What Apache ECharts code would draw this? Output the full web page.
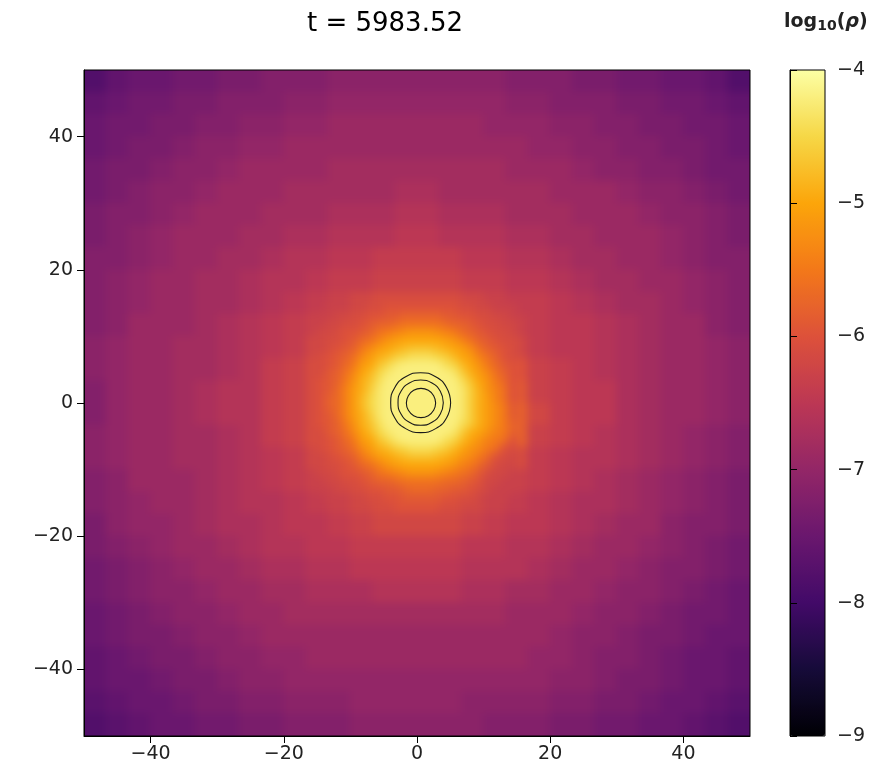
<!DOCTYPE html>
<html><head><meta charset="utf-8">
<style>html,body{margin:0;padding:0;background:#fff}#chart{width:887px;height:782px}
#chart canvas[data-zr-dom-id="zr_0"]{filter:blur(4px);clip-path:inset(70px 137px 46px 84px)}</style>
<script src="https://cdn.jsdelivr.net/npm/echarts@6/dist/echarts.min.js"></script></head><body><div id="chart"></div>
<script>
const titleText='t = 5983.52';
const tickLabels=[-40,-20,0,20,40];
const colorbarRange=[-9,-4];
const inferno=['#000004','#160b39','#420a68','#6a176e','#932667','#bc3754','#dd513a','#f37819','#fca50a','#f6d746','#fcffa4'];
// cell centres
const coarseAxis=[-48.33,-45,-41.67,-38.33,-35,-31.67,-28.33,-25,-21.67,-18.33,-15,-11.67,-8.33,-5,-1.67,1.67,5,8.33,11.67,15,18.33,21.67,25,28.33,31.67,35,38.33,41.67,45,48.33];
const fineAxis=[-14.375,-13.125,-11.875,-10.625,-9.375,-8.125,-6.875,-5.625,-4.375,-3.125,-1.875,-0.625,0.625,1.875,3.125,4.375,5.625,6.875,8.125,9.375,10.625,11.875,13.125,14.375];
// -log10(rho) x 10, rows from top to bottom
const coarseRho=[
[78,76,75,75,74,74,73,73,72,72,72,71,71,71,71,71,71,71,71,72,72,72,73,73,74,74,75,75,76,78],
[76,75,74,74,73,73,72,72,72,71,71,70,70,70,70,70,70,70,70,71,71,72,72,72,73,73,74,74,75,76],
[75,74,74,73,73,72,72,71,71,70,70,69,69,69,69,69,69,69,70,70,70,71,71,72,72,73,73,74,74,75],
[75,74,73,73,72,71,71,70,70,69,69,69,69,69,69,69,69,69,69,69,70,70,71,71,72,72,73,73,74,75],
[74,73,73,72,71,71,70,69,69,69,69,68,68,68,68,68,68,68,68,69,69,69,70,71,71,72,72,73,74,74],
[74,73,72,71,71,70,69,69,69,68,68,68,68,68,67,67,68,68,68,68,68,69,69,69,70,71,71,72,73,74],
[73,72,72,71,70,69,69,69,68,68,68,67,67,67,66,66,67,67,67,68,68,68,69,69,69,70,71,71,72,73],
[73,72,71,70,69,69,69,68,68,67,67,66,66,66,65,65,66,66,66,67,67,68,68,69,69,69,70,71,72,73],
[72,72,71,70,69,69,68,68,67,66,66,65,65,64,64,64,64,65,65,66,66,67,68,68,69,69,70,71,72,72],
[72,71,70,69,69,68,68,67,66,66,65,64,64,63,63,63,63,64,64,65,65,66,67,68,68,69,69,70,71,72],
[72,71,70,69,69,68,68,67,66,65,64,63,62,61,61,61,61,62,63,64,64,65,66,67,68,68,69,70,71,72],
[72,71,69,69,69,68,67,66,65,64,63,62,60,59,58,58,59,60,62,63,64,65,65,66,67,68,69,69,71,72],
[71,70,69,69,68,68,67,66,65,64,62,60,55,52,50,50,52,55,60,62,64,65,65,66,67,68,69,69,70,71],
[71,70,69,69,68,68,67,66,64,63,61,57,50,44,42,42,44,50,57,60,63,64,65,66,67,68,69,69,70,71],
[72,70,69,69,68,67,66,66,64,63,61,56,47,42,42,42,42,47,55,59,63,64,65,65,67,68,69,69,70,71],
[72,70,69,69,68,67,66,66,64,63,61,56,47,42,42,42,42,47,55,58,62,64,65,65,67,68,69,69,70,71],
[71,70,69,69,68,68,67,66,64,63,61,57,50,44,42,42,44,50,55,58,63,64,65,66,67,68,69,70,71,72],
[71,70,69,69,68,68,67,66,65,64,62,60,55,52,50,50,52,54,58,61,64,65,66,66,67,68,69,70,71,72],
[72,71,69,69,69,68,67,66,65,64,63,62,60,59,58,58,59,60,61,63,64,65,66,67,68,69,70,71,72,73],
[72,71,70,69,69,68,67,66,66,65,64,63,62,61,60,60,61,62,63,64,65,66,67,67,68,69,70,71,72,73],
[73,71,70,70,69,68,67,67,66,65,65,64,63,62,62,62,62,63,64,65,65,66,67,68,69,69,71,72,72,73],
[73,72,71,70,69,69,68,67,66,66,65,65,64,64,64,64,64,65,65,66,66,67,68,69,69,70,71,72,73,74],
[74,73,72,71,70,69,69,68,67,67,66,66,65,65,65,65,65,66,66,66,67,68,69,69,70,71,72,72,73,74],
[74,73,72,71,71,70,69,69,68,68,67,67,67,66,66,66,66,67,67,68,68,69,69,70,71,71,72,73,74,75],
[75,74,73,72,71,71,70,69,69,68,68,68,68,68,68,68,68,68,68,69,69,69,70,71,71,72,73,74,74,75],
[75,74,73,73,72,71,71,70,69,69,69,69,69,69,69,69,69,69,69,69,69,70,71,71,72,73,73,74,75,75],
[76,75,74,73,73,72,71,71,70,70,69,69,69,69,69,69,69,69,69,69,70,70,71,72,72,73,74,75,75,76],
[76,75,75,74,73,73,72,71,71,70,70,70,70,70,70,70,70,70,70,70,70,71,71,72,73,73,74,75,75,76],
[77,76,75,75,74,73,73,72,72,71,71,71,70,70,70,70,70,71,71,71,71,72,72,73,73,74,75,75,76,77],
[78,77,76,75,75,74,74,73,73,72,72,72,71,71,71,71,71,71,72,72,72,73,73,74,74,75,75,76,77,78]];
const fineRho=[
[64,63,63,63,62,62,61,61,60,60,60,60,60,60,60,60,60,61,61,62,62,63,63,63],
[63,63,62,62,61,61,60,60,59,59,58,58,58,58,58,59,59,60,60,61,61,62,62,63],
[63,62,62,61,61,60,59,58,58,57,56,56,56,56,56,57,58,58,59,60,61,61,62,62],
[62,62,61,60,60,59,58,56,55,54,53,52,52,52,53,54,55,57,58,59,60,61,61,62],
[62,61,61,60,59,57,56,54,52,51,50,50,50,50,50,51,52,54,56,58,59,60,61,61],
[62,61,60,59,58,55,53,51,50,49,48,47,47,47,48,49,50,51,53,56,58,59,60,61],
[61,60,59,58,56,53,51,49,48,46,45,44,44,44,45,46,48,50,51,54,56,58,60,61],
[61,60,59,57,55,51,50,47,45,43,42,42,42,42,42,44,45,48,50,52,55,57,59,60],
[61,59,58,56,53,50,48,45,43,42,42,42,42,42,42,42,43,46,49,51,53,56,58,60],
[60,59,58,55,52,49,47,44,42,42,42,42,42,42,42,42,42,44,47,50,52,55,57,60],
[60,59,57,54,51,49,46,43,42,42,42,42,42,42,42,42,42,43,46,49,52,54,56,60],
[60,58,57,54,51,48,45,43,42,42,42,42,42,42,42,42,42,43,46,49,51,54,56,60],
[60,58,57,54,51,48,45,43,42,42,42,42,42,42,42,42,42,43,46,49,51,53,55,59],
[60,59,57,54,51,49,46,43,42,42,42,42,42,42,42,42,42,43,46,49,51,53,55,59],
[60,59,58,55,52,49,47,44,42,42,42,42,42,42,42,42,42,44,46,49,51,53,55,58],
[61,59,58,56,53,50,48,45,43,42,42,42,42,42,42,42,43,46,49,50,52,54,55,58],
[61,60,59,57,55,51,50,47,45,43,42,42,42,42,42,44,45,48,50,52,54,55,56,60],
[61,60,59,58,56,53,51,49,48,46,45,44,44,44,45,46,48,50,52,53,55,56,60,61],
[62,61,60,59,58,55,53,51,50,49,48,47,47,47,48,49,50,52,53,55,57,60,61,62],
[62,61,61,60,59,57,56,54,52,51,50,50,50,50,50,51,52,54,55,57,59,61,62,62],
[62,62,61,60,60,59,58,56,55,54,53,52,52,52,53,54,55,56,57,59,61,62,62,63],
[63,62,62,61,61,60,59,58,58,57,56,56,56,56,56,57,57,58,59,60,62,62,63,63],
[63,63,62,62,61,61,60,60,59,59,58,57,57,57,58,58,59,59,60,61,62,63,63,63],
[64,63,63,63,62,62,61,61,60,60,59,59,59,59,59,60,60,61,61,62,63,63,63,64]];
const contourOuter=[[5.05,0.05],[4.45,2.3],[2.8,3.95],[0.55,4.55],[-1.7,3.95],[-3.35,2.3],[-3.95,0.05],[-3.35,-2.2],[-1.7,-3.85],[0.55,-4.45],[2.8,-3.85],[4.45,-2.2],[5.05,0.05]];
const contourMiddle=[[3.95,0.05],[3.5,1.75],[2.25,3],[0.55,3.45],[-1.15,3],[-2.4,1.75],[-2.85,0.05],[-2.4,-1.65],[-1.15,-2.9],[0.55,-3.35],[2.25,-2.9],[3.5,-1.65],[3.95,0.05]];
const contourInner=[[2.8,0],[2.5,1.1],[1.7,1.9],[0.6,2.2],[-0.5,1.9],[-1.3,1.1],[-1.6,0],[-1.3,-1.1],[-0.5,-1.9],[0.6,-2.2],[1.7,-1.9],[2.5,-1.1],[2.8,0]];

function cells(axis,rows,half){
  const out=[];
  rows.forEach((row,r)=>row.forEach((v,c)=>out.push([axis[c],axis[axis.length-1-r],-v/10,half])));
  return out;
}
function renderCell(params,api){
  const x=api.value(0),y=api.value(1),h=api.value(3);
  const grow=v=>Math.abs(v)>=48?(Math.abs(v)+h+4)*Math.sign(v):null;
  const x0=x-h<=-49?x-h-4:x-h, x1=x+h>=49?x+h+4:x+h;
  const y0=y-h<=-49?y-h-4:y-h, y1=y+h>=49?y+h+4:y+h;
  const a=api.coord([x0,y1]),b=api.coord([x1,y0]);
  return {type:'rect',shape:{x:a[0]-0.5,y:a[1]-0.5,width:b[0]-a[0]+1,height:b[1]-a[1]+1},style:{fill:api.visual('color')}};
}
const font='"DejaVu Sans"';
const minus=v=>String(v).replace('-','\u2212');
const lineCommon={type:'line',xAxisIndex:0,yAxisIndex:0,smooth:true,symbol:'none',zlevel:1,silent:true,lineStyle:{color:'#1a1a1a',width:1.1}};
const chart=echarts.init(document.getElementById('chart'),null,{renderer:'canvas'});
chart.setOption({
  animation:false,backgroundColor:'transparent',
  title:[
    {text:titleText,left:385,top:11,textAlign:'center',zlevel:1,padding:0,textStyle:{fontFamily:font,fontSize:26,fontWeight:'normal',color:'#000'}},
    {text:'{a|log}{b|10}{a|(}{c|\u03c1}{a|)}',left:784,top:12,zlevel:1,padding:0,textStyle:{rich:{
      a:{fontFamily:font,fontSize:19,color:'#222'},
      b:{fontFamily:font,fontSize:14,color:'#222',verticalAlign:'bottom',padding:[7,0,0,0]},
      c:{fontFamily:font,fontSize:19,fontStyle:'italic',color:'#222'}}}}
  ],
  grid:[
    {left:84,top:70,width:666,height:666,show:true,borderColor:'#000',borderWidth:1,backgroundColor:'transparent',zlevel:1},
    {left:790,top:70,width:35,height:666,show:true,borderColor:'#000',borderWidth:1,backgroundColor:'transparent',zlevel:1,z:8}
  ],
  xAxis:[
    {type:'value',gridIndex:0,min:-50,max:50,zlevel:1,splitLine:{show:false},axisLine:{show:true,onZero:false,lineStyle:{color:'#000'}},
     axisTick:{show:true,length:7,lineStyle:{color:'#000'},customValues:tickLabels},
     axisLabel:{fontFamily:font,fontSize:19,color:'#222',margin:9,customValues:tickLabels,formatter:minus}},
    {type:'value',gridIndex:1,min:0,max:1,show:false}
  ],
  yAxis:[
    {type:'value',gridIndex:0,min:-50,max:50,zlevel:1,splitLine:{show:false},axisLine:{show:true,onZero:false,lineStyle:{color:'#000'}},
     axisTick:{show:true,length:7,lineStyle:{color:'#000'},customValues:tickLabels},
     axisLabel:{fontFamily:font,fontSize:19,color:'#222',margin:11,customValues:tickLabels,formatter:minus}},
    {type:'value',gridIndex:1,position:'right',min:colorbarRange[0],max:colorbarRange[1],interval:1,zlevel:1,z:8,splitLine:{show:false},
     axisLine:{show:true,lineStyle:{color:'#000'}},axisTick:{show:true,length:7,lineStyle:{color:'#000'}},
     axisLabel:{fontFamily:font,fontSize:19,color:'#222',margin:12,formatter:minus}}
  ],
  visualMap:{type:'continuous',seriesIndex:[0,1],dimension:2,min:colorbarRange[0],max:colorbarRange[1],left:790,top:70,padding:0,itemWidth:35,itemHeight:666,
    calculable:false,realtime:false,text:null,showLabel:false,zlevel:1,z:4,inRange:{color:inferno},textStyle:{fontSize:0}},
  series:[
    {type:'custom',name:'coarse',xAxisIndex:0,yAxisIndex:0,data:cells(coarseAxis,coarseRho,1.6667),encode:{x:0,y:1},renderItem:renderCell,silent:true,zlevel:0,z:1},
    {type:'custom',name:'fine',xAxisIndex:0,yAxisIndex:0,data:cells(fineAxis,fineRho,0.625),encode:{x:0,y:1},renderItem:renderCell,silent:true,zlevel:0,z:2},
    Object.assign({},lineCommon,{name:'contour1',data:contourOuter}),
    Object.assign({},lineCommon,{name:'contour2',data:contourMiddle}),
    Object.assign({},lineCommon,{name:'contour3',data:contourInner})
  ]
});
</script></body></html>
